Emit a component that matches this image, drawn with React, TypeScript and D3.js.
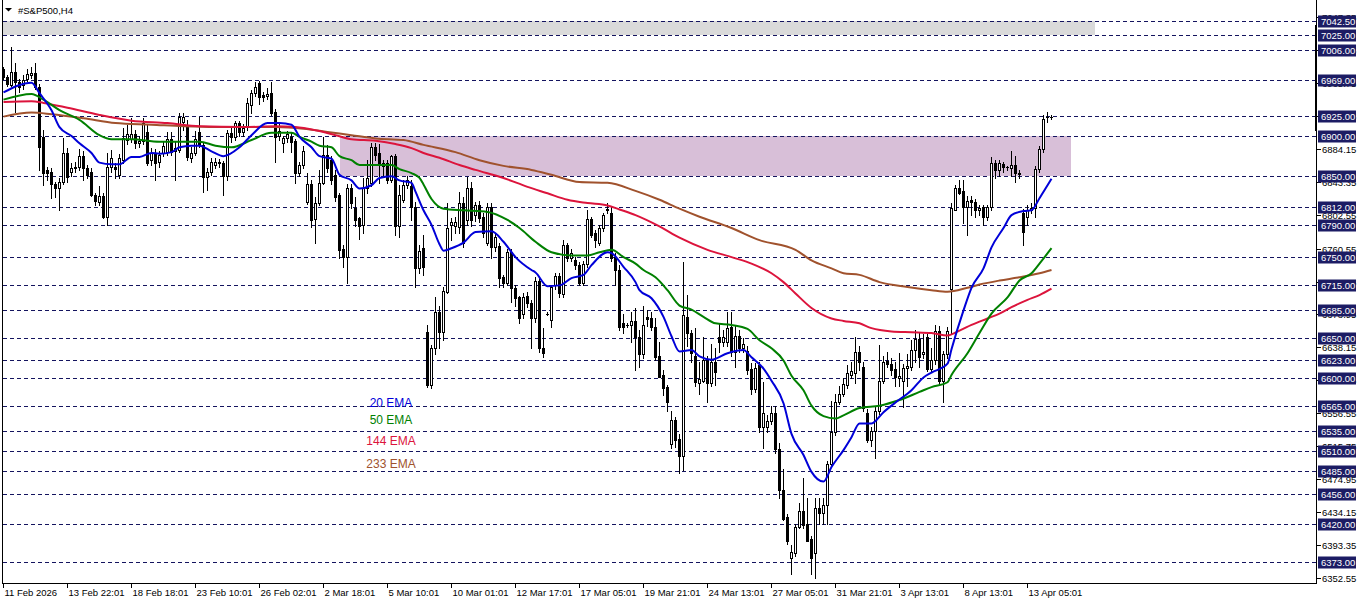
import * as React from 'react';
import * as d3 from 'd3';

// [open, high, low, close] per H4 bar
const candles: number[][] = [
  [6983, 6986, 6970, 6973], [6973, 6976, 6962, 6964], [6963, 7010, 6962, 6979], [6979, 6990, 6930, 6967],
  [6967, 6970, 6955, 6961], [6963, 6976, 6958, 6969], [6970, 6983, 6968, 6977], [6976, 6986, 6972, 6978],
  [6978, 6990, 6958, 6961], [6961, 6965, 6858, 6886], [6899, 6907, 6839, 6854], [6858, 6862, 6845, 6854],
  [6856, 6860, 6823, 6841], [6841, 6843, 6824, 6835], [6835, 6848, 6808, 6843], [6843, 6897, 6840, 6879],
  [6879, 6885, 6843, 6849], [6856, 6866, 6850, 6860], [6860, 6868, 6856, 6862], [6862, 6884, 6858, 6875],
  [6875, 6882, 6845, 6860], [6860, 6864, 6848, 6852], [6856, 6860, 6826, 6827], [6827, 6830, 6815, 6819],
  [6818, 6838, 6815, 6826], [6826, 6830, 6798, 6800], [6800, 6879, 6790, 6862], [6862, 6883, 6855, 6873],
  [6862, 6866, 6848, 6859], [6852, 6878, 6848, 6873], [6870, 6910, 6866, 6897], [6895, 6914, 6890, 6902],
  [6896, 6922, 6892, 6902], [6902, 6908, 6885, 6891], [6891, 6900, 6886, 6894], [6894, 6922, 6890, 6916],
  [6905, 6914, 6864, 6866], [6870, 6885, 6864, 6879], [6879, 6884, 6845, 6866], [6868, 6882, 6862, 6876],
  [6879, 6892, 6875, 6887], [6880, 6905, 6876, 6896], [6896, 6905, 6876, 6880], [6881, 6893, 6845, 6885],
  [6883, 6929, 6880, 6924], [6917, 6929, 6907, 6923], [6912, 6920, 6870, 6874], [6873, 6886, 6868, 6879],
  [6879, 6906, 6876, 6896], [6905, 6924, 6886, 6889], [6889, 6893, 6831, 6849], [6849, 6860, 6833, 6856],
  [6856, 6873, 6852, 6868], [6864, 6873, 6860, 6868], [6868, 6872, 6862, 6866], [6866, 6869, 6827, 6850],
  [6850, 6907, 6846, 6904], [6904, 6910, 6893, 6899], [6899, 6919, 6895, 6916], [6916, 6919, 6900, 6905],
  [6905, 6915, 6900, 6910], [6911, 6947, 6908, 6941], [6938, 6957, 6928, 6953], [6953, 6967, 6950, 6961],
  [6966, 6968, 6940, 6948], [6951, 6955, 6943, 6948], [6950, 6960, 6946, 6952], [6953, 6967, 6926, 6929],
  [6930, 6933, 6868, 6899], [6900, 6915, 6895, 6906], [6891, 6900, 6880, 6897], [6897, 6906, 6893, 6902],
  [6899, 6905, 6880, 6893], [6894, 6896, 6842, 6854], [6854, 6868, 6850, 6864], [6864, 6888, 6860, 6882],
  [6818, 6854, 6816, 6840], [6840, 6846, 6787, 6796], [6797, 6825, 6767, 6817], [6817, 6858, 6814, 6842],
  [6842, 6899, 6840, 6877], [6877, 6889, 6855, 6860], [6870, 6875, 6841, 6845], [6852, 6858, 6820, 6825],
  [6827, 6830, 6749, 6759], [6760, 6765, 6738, 6750], [6750, 6841, 6718, 6835], [6835, 6840, 6811, 6817],
  [6811, 6825, 6789, 6796], [6798, 6800, 6773, 6788], [6790, 6848, 6780, 6835], [6835, 6870, 6830, 6848],
  [6842, 6891, 6838, 6886], [6886, 6891, 6870, 6876], [6879, 6890, 6842, 6864], [6863, 6870, 6850, 6866],
  [6866, 6870, 6842, 6846], [6846, 6877, 6843, 6875], [6875, 6878, 6777, 6788], [6788, 6839, 6775, 6827],
  [6821, 6845, 6818, 6839], [6839, 6850, 6835, 6845], [6838, 6845, 6796, 6812], [6812, 6818, 6713, 6737],
  [6737, 6765, 6730, 6758], [6761, 6777, 6728, 6738], [6657, 6666, 6589, 6591], [6591, 6641, 6588, 6637],
  [6637, 6700, 6630, 6682], [6682, 6690, 6638, 6657], [6657, 6713, 6647, 6708], [6707, 6817, 6705, 6786],
  [6790, 6798, 6771, 6793], [6788, 6800, 6780, 6793], [6787, 6831, 6780, 6817], [6817, 6825, 6762, 6767],
  [6796, 6849, 6790, 6835], [6835, 6843, 6788, 6796], [6802, 6818, 6795, 6814], [6814, 6820, 6793, 6798],
  [6800, 6805, 6775, 6780], [6768, 6817, 6765, 6812], [6812, 6817, 6749, 6762], [6762, 6780, 6757, 6775],
  [6764, 6768, 6713, 6724], [6725, 6728, 6713, 6718], [6718, 6760, 6715, 6756], [6756, 6760, 6694, 6712],
  [6712, 6715, 6690, 6699], [6700, 6702, 6669, 6674], [6680, 6705, 6675, 6700], [6702, 6707, 6688, 6693],
  [6693, 6697, 6638, 6674], [6674, 6725, 6670, 6721], [6721, 6725, 6632, 6638], [6638, 6662, 6626, 6631],
  [6680, 6682, 6678, 6680], [6672, 6716, 6663, 6713], [6715, 6730, 6710, 6726], [6726, 6730, 6700, 6705],
  [6704, 6771, 6700, 6765], [6765, 6767, 6745, 6749], [6749, 6760, 6745, 6755], [6746, 6750, 6735, 6740],
  [6740, 6744, 6715, 6718], [6718, 6745, 6715, 6742], [6742, 6808, 6738, 6797], [6797, 6800, 6775, 6778],
  [6780, 6783, 6762, 6771], [6768, 6790, 6765, 6786], [6786, 6805, 6782, 6802], [6808, 6817, 6805, 6810],
  [6805, 6812, 6745, 6749], [6750, 6755, 6715, 6734], [6734, 6740, 6660, 6663], [6669, 6680, 6656, 6663],
  [6666, 6668, 6664, 6666], [6666, 6682, 6645, 6671], [6671, 6687, 6610, 6651], [6651, 6660, 6614, 6630],
  [6630, 6690, 6625, 6666], [6676, 6684, 6665, 6673], [6674, 6682, 6660, 6663], [6663, 6675, 6622, 6626],
  [6628, 6645, 6601, 6602], [6604, 6610, 6579, 6588], [6589, 6592, 6560, 6571], [6519, 6560, 6514, 6548],
  [6548, 6552, 6515, 6523], [6525, 6531, 6482, 6504], [6504, 6744, 6486, 6678], [6676, 6703, 6640, 6656],
  [6656, 6660, 6620, 6631], [6628, 6662, 6590, 6595], [6594, 6620, 6581, 6599], [6597, 6651, 6595, 6622],
  [6622, 6628, 6570, 6594], [6594, 6643, 6590, 6620], [6620, 6638, 6592, 6608], [6651, 6669, 6632, 6645],
  [6645, 6660, 6640, 6651], [6645, 6682, 6640, 6662], [6663, 6682, 6628, 6632], [6632, 6666, 6614, 6652],
  [6652, 6660, 6632, 6638], [6638, 6650, 6632, 6642], [6634, 6640, 6605, 6610], [6612, 6619, 6581, 6587],
  [6587, 6619, 6583, 6613], [6616, 6620, 6533, 6539], [6539, 6595, 6514, 6557], [6540, 6555, 6533, 6547],
  [6547, 6566, 6543, 6557], [6557, 6566, 6507, 6512], [6512, 6520, 6452, 6462], [6462, 6488, 6424, 6426],
  [6428, 6432, 6395, 6399], [6377, 6393, 6358, 6385], [6383, 6420, 6380, 6416], [6416, 6445, 6414, 6435],
  [6435, 6477, 6414, 6418], [6420, 6452, 6399, 6399], [6401, 6405, 6358, 6377], [6384, 6452, 6352, 6439],
  [6439, 6452, 6420, 6433], [6433, 6452, 6420, 6443], [6443, 6498, 6420, 6494], [6494, 6572, 6490, 6533],
  [6533, 6581, 6530, 6570], [6570, 6590, 6568, 6581], [6581, 6600, 6578, 6593], [6591, 6616, 6588, 6606],
  [6604, 6620, 6600, 6609], [6607, 6651, 6594, 6632], [6632, 6640, 6610, 6620], [6614, 6620, 6560, 6563],
  [6557, 6562, 6521, 6523], [6523, 6540, 6516, 6535], [6535, 6565, 6501, 6560], [6560, 6641, 6556, 6597],
  [6597, 6628, 6594, 6620], [6621, 6632, 6614, 6618], [6618, 6625, 6604, 6610], [6612, 6620, 6590, 6601],
  [6600, 6631, 6590, 6603], [6597, 6618, 6564, 6613], [6613, 6630, 6590, 6615], [6614, 6647, 6610, 6635],
  [6635, 6660, 6620, 6648], [6648, 6657, 6614, 6626], [6630, 6655, 6625, 6633], [6651, 6655, 6609, 6612],
  [6612, 6637, 6608, 6622], [6622, 6666, 6618, 6659], [6659, 6665, 6592, 6597], [6597, 6634, 6570, 6630],
  [6630, 6664, 6625, 6659], [6711, 6817, 6655, 6811], [6808, 6839, 6808, 6835], [6835, 6845, 6828, 6830],
  [6832, 6845, 6792, 6812], [6812, 6826, 6777, 6820], [6821, 6826, 6802, 6818], [6818, 6822, 6800, 6808],
  [6808, 6815, 6802, 6811], [6812, 6815, 6790, 6800], [6800, 6815, 6796, 6812], [6812, 6874, 6808, 6866],
  [6866, 6870, 6848, 6858], [6858, 6870, 6850, 6866], [6865, 6868, 6855, 6861], [6861, 6863, 6858, 6861],
  [6860, 6882, 6850, 6864], [6864, 6875, 6843, 6854], [6854, 6858, 6848, 6853], [6805, 6809, 6765, 6781],
  [6800, 6815, 6790, 6808], [6808, 6817, 6805, 6811], [6811, 6863, 6800, 6859], [6859, 6888, 6855, 6884],
  [6884, 6926, 6880, 6921], [6923, 6930, 6917, 6924], [6923, 6926, 6921, 6923],
];

// moving averages, [bar index, value]
const ema20: number[][] = [
  [0, 6954], [7, 6966], [9, 6953], [12, 6932], [14, 6911], [17, 6900], [19, 6891], [22, 6879], [24, 6867],
  [27, 6865], [29, 6865], [32, 6874], [34, 6874], [37, 6879], [39, 6878], [42, 6880], [44, 6886], [47, 6888],
  [49, 6888], [52, 6881], [55, 6875], [59, 6886], [62, 6901], [66, 6916], [69, 6916], [72, 6914], [74, 6899],
  [77, 6886], [79, 6875], [82, 6872], [84, 6852], [87, 6845], [89, 6835], [92, 6839], [94, 6848], [97, 6850],
  [99, 6845], [102, 6842], [103, 6831], [105, 6808], [107, 6790], [109, 6766], [110, 6758], [112, 6761],
  [115, 6768], [118, 6781], [122, 6782], [125, 6769], [128, 6750], [132, 6734], [133, 6731], [136, 6714],
  [139, 6715], [142, 6724], [145, 6728], [147, 6740], [151, 6756], [152, 6755], [155, 6738], [158, 6719],
  [159, 6709], [162, 6699], [165, 6676], [167, 6652], [169, 6633], [172, 6635], [174, 6627], [177, 6623],
  [181, 6631], [185, 6635], [187, 6626], [190, 6612], [192, 6597], [195, 6569], [197, 6531], [200, 6505],
  [202, 6484], [205, 6472], [207, 6490], [210, 6511], [212, 6527], [214, 6544], [217, 6544], [220, 6558],
  [223, 6570], [227, 6585], [230, 6601], [232, 6607], [236, 6618], [237, 6636], [240, 6684], [242, 6712],
  [245, 6736], [247, 6762], [250, 6786], [252, 6802], [255, 6807], [257, 6808], [259, 6823], [262, 6847],
];
const ema50: number[][] = [
  [0, 6945], [7, 6952], [10, 6945], [14, 6932], [19, 6920], [24, 6901], [27, 6896], [32, 6896], [39, 6893],
  [44, 6893], [49, 6893], [53, 6888], [57, 6886], [62, 6895], [67, 6904], [72, 6904], [74, 6899], [77, 6893],
  [79, 6888], [82, 6886], [84, 6875], [87, 6870], [89, 6864], [94, 6864], [97, 6864], [99, 6859], [102, 6854],
  [104, 6848], [105, 6840], [107, 6822], [110, 6810], [115, 6808], [121, 6806], [126, 6796], [129, 6786],
  [133, 6769], [137, 6756], [142, 6752], [146, 6752], [149, 6756], [152, 6759], [155, 6750], [158, 6742],
  [160, 6734], [163, 6725], [166, 6709], [169, 6690], [172, 6685], [175, 6676], [178, 6668], [182, 6666],
  [186, 6661], [189, 6647], [192, 6637], [195, 6622], [197, 6603], [200, 6585], [202, 6566], [205, 6553],
  [208, 6550], [210, 6554], [214, 6563], [219, 6566], [224, 6573], [229, 6583], [232, 6589], [236, 6595],
  [237, 6604], [241, 6631], [244, 6656], [247, 6680], [251, 6700], [254, 6721], [257, 6730], [259, 6742],
  [262, 6761],
];
const ema144: number[][] = [
  [0, 6942], [7, 6943], [10, 6941], [16, 6935], [24, 6926], [32, 6919], [41, 6916], [49, 6912], [60, 6911],
  [68, 6912], [73, 6911], [78, 6907], [83, 6901], [87, 6896], [93, 6894], [98, 6890], [102, 6885], [105, 6879],
  [109, 6873], [114, 6864], [118, 6858], [125, 6848], [131, 6837], [136, 6829], [141, 6821], [146, 6817],
  [151, 6814], [154, 6809], [158, 6802], [164, 6788], [169, 6774], [176, 6759], [182, 6750], [187, 6742],
  [192, 6730], [195, 6719], [198, 6705], [202, 6687], [207, 6674], [210, 6671], [214, 6668], [217, 6662],
  [222, 6658], [227, 6657], [232, 6656], [236, 6653], [239, 6659], [242, 6666], [246, 6674], [249, 6680],
  [252, 6688], [256, 6697], [259, 6703], [262, 6711],
];
const ema233: number[][] = [
  [0, 6924], [7, 6929], [12, 6927], [20, 6922], [28, 6916], [37, 6914], [45, 6912], [53, 6911], [60, 6911],
  [68, 6911], [75, 6909], [81, 6905], [87, 6901], [93, 6897], [100, 6895], [105, 6889], [113, 6880],
  [119, 6870], [125, 6863], [132, 6858], [137, 6852], [144, 6843], [151, 6842], [158, 6832], [164, 6821],
  [169, 6810], [174, 6800], [182, 6786], [189, 6771], [198, 6759], [202, 6746], [207, 6736], [210, 6730],
  [214, 6728], [219, 6719], [226, 6713], [232, 6709], [236, 6707], [241, 6712], [244, 6716], [249, 6721],
  [254, 6725], [259, 6730], [262, 6734],
];

const emaNames = ['20 EMA', '50 EMA', '144 EMA', '233 EMA'];
const emaColors = ['#0000d8', '#008000', '#dc143c', '#a0522d'];

// horizontal levels drawn on the chart
const levels = [7042.5, 7025, 7006, 6969, 6925, 6900, 6850, 6812, 6790, 6750, 6715, 6685, 6650, 6623, 6600,
  6565, 6535, 6510, 6485, 6456, 6420, 6373];
const grayZone = [7042.5, 7025];
const pinkZone = [6900, 6850];

const priceTicks = [6352.55, 6393.35, 6434.15, 6474.95, 6515.75, 6556.55, 6597.35, 6638.15, 6678.95, 6719.75,
  6760.55, 6802.55, 6843.35, 6884.15, 6924.95, 6965.75, 7006.55, 7047.35];

const timeLabels = ['11 Feb 2026', '13 Feb 22:01', '18 Feb 18:01', '23 Feb 10:01', '26 Feb 02:01', '2 Mar 18:01',
  '5 Mar 10:01', '10 Mar 01:01', '12 Mar 17:01', '17 Mar 05:01', '19 Mar 21:01', '24 Mar 13:01', '27 Mar 05:01',
  '31 Mar 21:01', '3 Apr 13:01', '8 Apr 13:01', '13 Apr 05:01'];

const FONT = '"Liberation Sans", Arial, sans-serif';

class App extends React.Component<{}, {}> {
  private chartRef: React.RefObject<SVGSVGElement> = React.createRef();
  private dim = { width: 1362, height: 603, axisX: 1316, axisY: 583 };

  componentDidMount() {
    const svg = d3.select(this.chartRef.current);
    svg.selectAll('*').remove();
    const { axisX, axisY } = this.dim;

    const x = d3.scaleLinear().domain([0, candles.length - 1]).range([3, 3 + 4 * (candles.length - 1)]);
    const y = d3.scaleLinear().domain([6373, 6900]).range([561.5, 136]);
    const px = (i: number) => Math.round(x(i));
    const py = (v: number) => Math.round(y(v));

    svg.append('rect').attr('width', this.dim.width).attr('height', this.dim.height).attr('fill', '#fff');

    // zones
    svg.append('rect')
      .attr('x', 3).attr('y', py(grayZone[0]))
      .attr('width', 1095 - 3).attr('height', py(grayZone[1]) - py(grayZone[0]))
      .attr('fill', '#dadada');
    svg.append('rect')
      .attr('x', 340).attr('y', py(pinkZone[0]))
      .attr('width', 1071 - 340).attr('height', py(pinkZone[1]) - py(pinkZone[0]))
      .attr('fill', '#d8bfd8');

    // level lines
    svg.append('g').selectAll('line').data(levels).join('line')
      .attr('x1', 3).attr('x2', axisX)
      .attr('y1', d => py(d) + 0.5).attr('y2', d => py(d) + 0.5)
      .attr('stroke', '#14145f').attr('stroke-width', 1)
      .attr('stroke-dasharray', '4,3');

    // candles
    const g = svg.append('g');
    candles.forEach((d, i) => {
      const [o, h, l, c] = d;
      const cx = px(i);
      g.append('line')
        .attr('x1', cx + 0.5).attr('x2', cx + 0.5)
        .attr('y1', py(h)).attr('y2', py(l) + 1)
        .attr('stroke', '#000').attr('stroke-width', 1);
      const top = py(Math.max(o, c));
      const bot = py(Math.min(o, c));
      if (c >= o) {
        if (bot - top < 1) {
          g.append('line').attr('x1', cx - 1).attr('x2', cx + 2)
            .attr('y1', top + 0.5).attr('y2', top + 0.5).attr('stroke', '#000');
        } else {
          g.append('rect')
            .attr('x', cx - 0.5).attr('y', top + 0.5)
            .attr('width', 2).attr('height', bot - top)
            .attr('fill', '#fff').attr('stroke', '#000').attr('stroke-width', 1);
        }
      } else {
        g.append('rect')
          .attr('x', cx - 1).attr('y', top)
          .attr('width', 3).attr('height', Math.max(bot - top + 1, 1))
          .attr('fill', '#000');
      }
    });

    // moving averages
    const line = d3.line<number[]>()
      .x(d => x(d[0]) + 0.5)
      .y(d => y(d[1]))
      .curve(d3.curveMonotoneX);
    [ema233, ema144, ema50, ema20].forEach((s, j) => {
      svg.append('path')
        .attr('d', line(s)!)
        .attr('fill', 'none')
        .attr('stroke', emaColors[3 - j])
        .attr('stroke-width', 2)
        .attr('stroke-linejoin', 'round');
    });

    // legend
    const legendY = [403, 420, 441, 464];
    svg.append('g').selectAll('text').data(emaNames).join('text')
      .attr('x', 391).attr('y', (_, i) => legendY[i] + 4)
      .attr('text-anchor', 'middle')
      .attr('font-family', FONT).attr('font-size', 12)
      .attr('fill', (_, i) => emaColors[i])
      .text(d => d);

    // frame
    svg.append('line').attr('x1', 2.5).attr('x2', 2.5).attr('y1', 0).attr('y2', axisY + 0.5)
      .attr('stroke', '#000');
    svg.append('line').attr('x1', axisX + 0.5).attr('x2', axisX + 0.5).attr('y1', 0).attr('y2', axisY + 0.5)
      .attr('stroke', '#000');
    svg.append('line').attr('x1', 2).attr('x2', axisX + 1).attr('y1', axisY + 0.5).attr('y2', axisY + 0.5)
      .attr('stroke', '#000');
    svg.append('rect').attr('x', axisX - 1).attr('y', 25).attr('width', 2).attr('height', 106).attr('fill', '#000');

    // price axis
    const pa = svg.append('g');
    priceTicks.forEach(v => {
      const yy = py(v) + 0.5;
      pa.append('line').attr('x1', axisX + 1).attr('x2', axisX + 5).attr('y1', yy).attr('y2', yy).attr('stroke', '#000');
      pa.append('text').attr('x', axisX + 6).attr('y', yy + 3.5)
        .attr('font-family', FONT).attr('font-size', 9.5).attr('fill', '#000')
        .text(v.toFixed(2));
    });
    levels.forEach(v => {
      const yy = py(v) + 0.5;
      pa.append('rect').attr('x', axisX + 2).attr('y', yy - 6).attr('width', 38).attr('height', 12)
        .attr('fill', '#1c1c64');
      pa.append('text').attr('x', axisX + 5).attr('y', yy + 3.5)
        .attr('font-family', FONT).attr('font-size', 9.5).attr('fill', '#fff')
        .text(v.toFixed(2));
    });

    // time axis
    const ta = svg.append('g');
    timeLabels.forEach((t, j) => {
      const xx = px(j * 16) + 0.5;
      ta.append('line').attr('x1', xx).attr('x2', xx).attr('y1', axisY + 1).attr('y2', axisY + 5).attr('stroke', '#000');
      ta.append('text').attr('x', xx + 1).attr('y', axisY + 13)
        .attr('font-family', FONT).attr('font-size', 9.5).attr('fill', '#000')
        .text(t);
    });

    // title
    svg.append('path').attr('d', 'M5,8L12,8L8.5,11.5Z').attr('fill', '#000');
    svg.append('text').attr('x', 18).attr('y', 14)
      .attr('font-family', FONT).attr('font-size', 9.5).attr('fill', '#000')
      .text('#S&P500,H4');
  }

  render() {
    return (
      <svg ref={this.chartRef} width={this.dim.width} height={this.dim.height}
        style={{ position: 'absolute', left: 0, top: 0, display: 'block' }}>
      </svg>
    );
  }
}

export default App;
